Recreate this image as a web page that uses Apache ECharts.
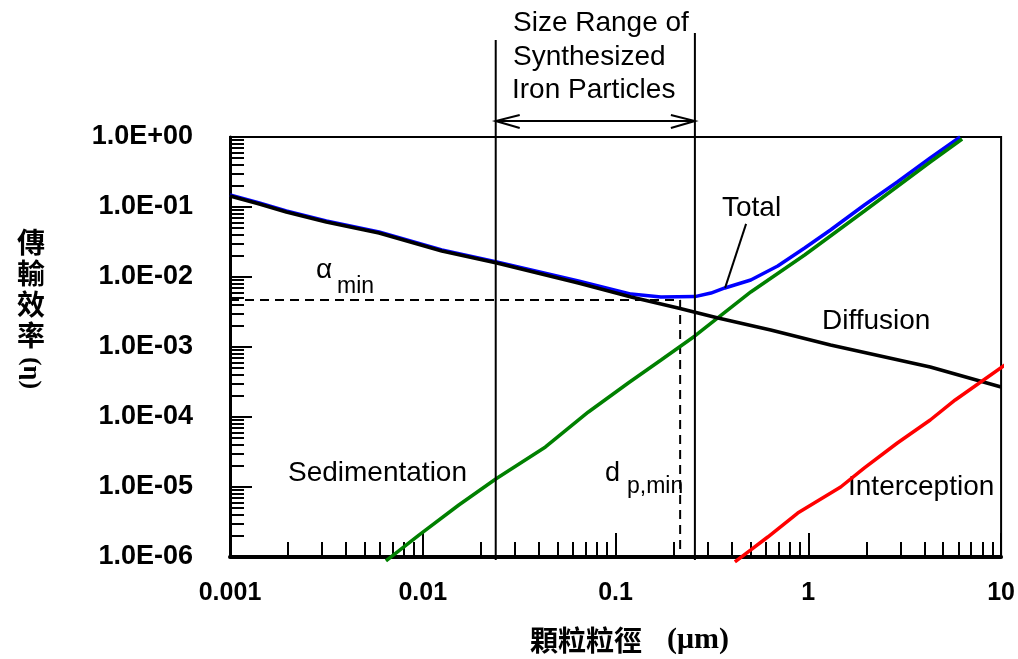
<!DOCTYPE html>
<html><head><meta charset="utf-8">
<script src="https://cdn.jsdelivr.net/npm/echarts@6/dist/echarts.min.js"></script>
<style>html,body{margin:0;padding:0;background:#fff}#c{width:1018px;height:659px}</style>
</head><body><div id="c"></div>
<script>
// ---- data ----
const xTickLabels = ['0.001', '0.01', '0.1', '1', '10'];
const yTickLabels = ['1.0E-06', '1.0E-05', '1.0E-04', '1.0E-03', '1.0E-02', '1.0E-01', '1.0E+00'];

const diffusion = [
  [0.001, 0.1436], [0.00142, 0.1104], [0.00196, 0.0849], [0.00316, 0.0611], [0.00593, 0.0425],
  [0.01256, 0.0235], [0.0242, 0.01585], [0.0641, 0.0082], [0.1205, 0.00518], [0.211, 0.00361],
  [0.340, 0.00259], [0.638, 0.00175], [1.303, 0.00107], [4.29, 0.000518], [10, 0.000268]
];
const total = [
  [0.001, 0.149], [0.00142, 0.114], [0.00196, 0.0877], [0.00316, 0.0631], [0.00593, 0.0439],
  [0.01256, 0.0243], [0.0242, 0.01637], [0.0641, 0.00877], [0.1205, 0.0057], [0.172, 0.00518],
  [0.258, 0.00525], [0.3126, 0.0059], [0.369, 0.00697], [0.503, 0.00906], [0.694, 0.01436],
  [0.957, 0.02596], [1.303, 0.0469], [1.954, 0.1069], [2.896, 0.2276], [4.29, 0.501], [6.13, 1.0]
];
const sedimentation = [
  [0.00644, 8.77e-7], [0.00955, 2.06e-6], [0.01538, 5.53e-6], [0.0239, 1.30e-5], [0.0433, 3.73e-5],
  [0.0723, 1.18e-4], [0.1164, 3.06e-4], [0.1722, 6.52e-4], [0.258, 1.436e-3], [0.503, 6.11e-3],
  [0.957, 0.0206], [1.954, 0.0877], [4.29, 0.4395], [6.28, 0.936]
];
const interception = [
  [0.416, 8.49e-7], [0.503, 1.26e-6], [0.616, 1.93e-6], [0.881, 4.25e-6], [1.472, 1.0e-5],
  [1.954, 1.87e-5], [2.896, 4.25e-5], [4.29, 9.06e-5], [5.78, 1.75e-4], [10.47, 5.53e-4]
];
const sizeRange = [0.0239, 0.258];      // size range of synthesized iron particles (um)
const minPoint = [0.2163, 0.00469];     // [d_p,min, alpha_min]
const totalLeader = [0.37, 0.0070];     // point on Total curve where the label leader starts

// ---- minor ticks (log decades) ----
const xMinor = [], yMinor = [];
for (let e = -3; e <= 0; e++) for (let m = 2; m <= 9; m++) xMinor.push(+(m * Math.pow(10, e)).toPrecision(3));
for (let e = -6; e <= -1; e++) for (let m = 2; m <= 9; m++) yMinor.push(+(m * Math.pow(10, e)).toPrecision(3));

const SANS = '"Liberation Sans", Arial, sans-serif';
const CJK = '"Noto Sans CJK TC", "Noto Sans CJK SC", sans-serif';
const SERIF = '"Liberation Serif", "Times New Roman", serif';

const chart = echarts.init(document.getElementById('c'), null, {renderer: 'canvas'});

const tickStyle = {color: '#000', width: 2};
const baseX = {type: 'log', logBase: 10, min: 0.001, max: 10, gridIndex: 0, position: 'bottom', splitLine: {show: false}, minorTick: {show: false}, minorSplitLine: {show: false}};
const baseY = {type: 'log', logBase: 10, min: 1e-6, max: 1, gridIndex: 0, position: 'left', splitLine: {show: false}, minorTick: {show: false}, minorSplitLine: {show: false}};

function txt(x, y, text, font, extra) {
  return Object.assign({type: 'text', x: x, y: y, style: {text: text, font: font, fill: '#000', align: 'left', verticalAlign: 'middle'}}, extra || {});
}

const option = {
  animation: false,
  backgroundColor: '#fff',
  grid: {left: 230, right: 14, top: 137, bottom: 102, show: true, borderColor: '#000', borderWidth: 2, backgroundColor: 'transparent'},
  xAxis: [
    Object.assign({}, baseX, {
      axisLine: {show: true, onZero: false, lineStyle: {color: '#000', width: 4}},
      axisTick: {show: true, inside: true, length: 24, lineStyle: tickStyle},
      axisLabel: {show: true, margin: 24, color: '#000', fontSize: 25, fontWeight: 'bold', fontFamily: SANS,
        formatter: v => xTickLabels[Math.round(Math.log10(v)) + 3]}
    }),
    Object.assign({}, baseX, {
      axisLine: {show: false},
      axisTick: {show: true, inside: true, length: 15, lineStyle: tickStyle, customValues: xMinor},
      axisLabel: {show: false}
    })
  ],
  yAxis: [
    Object.assign({}, baseY, {
      axisLine: {show: true, onZero: false, lineStyle: {color: '#000', width: 3}},
      axisTick: {show: true, inside: true, length: 22, lineStyle: tickStyle},
      axisLabel: {show: true, margin: 37, color: '#000', fontSize: 27, fontWeight: 'bold', fontFamily: SANS,
        formatter: v => yTickLabels[Math.round(Math.log10(v)) + 6]}
    }),
    Object.assign({}, baseY, {
      axisLine: {show: false},
      axisTick: {show: true, inside: true, length: 14, lineStyle: tickStyle, customValues: yMinor},
      axisLabel: {show: false}
    })
  ],
  series: [
    {name: 'Total', type: 'line', data: total, showSymbol: false, symbol: 'none', clip: false,
      lineStyle: {color: '#0000ff', width: 3.5}, itemStyle: {color: '#0000ff'}},
    {name: 'Sedimentation', type: 'line', data: sedimentation, showSymbol: false, symbol: 'none', clip: false,
      lineStyle: {color: '#008000', width: 3.5}, itemStyle: {color: '#008000'}},
    {name: 'Diffusion', type: 'line', data: diffusion, showSymbol: false, symbol: 'none', clip: false,
      lineStyle: {color: '#000', width: 3.5}, itemStyle: {color: '#000'}},
    {name: 'Interception', type: 'line', data: interception, showSymbol: false, symbol: 'none', clip: false,
      lineStyle: {color: '#ff0000', width: 3.5}, itemStyle: {color: '#ff0000'}},
    // size range lines + double arrow
    {type: 'custom', silent: true, data: [sizeRange], z: 5,
      renderItem: (params, api) => {
        const cs = params.coordSys;
        const top = cs.y, bottom = cs.y + cs.height;
        const xl = api.coord([api.value(0), 0.01])[0];
        const xr = api.coord([api.value(1), 0.01])[0];
        const ay = top - 16;
        const ls = {stroke: '#000', lineWidth: 2, fill: null};
        return {type: 'group', children: [
          {type: 'line', shape: {x1: xl, y1: top - 97, x2: xl, y2: bottom + 3}, style: ls},
          {type: 'line', shape: {x1: xr, y1: top - 104, x2: xr, y2: bottom + 3}, style: ls},
          {type: 'line', shape: {x1: xl, y1: ay, x2: xr, y2: ay}, style: ls},
          {type: 'polyline', shape: {points: [[xl + 24, ay - 6], [xl, ay], [xl + 24, ay + 7]]}, style: ls},
          {type: 'polyline', shape: {points: [[xr - 24, ay - 6], [xr, ay], [xr - 24, ay + 7]]}, style: ls}
        ]};
      }},
    // dashed alpha_min / d_p,min lines
    {type: 'custom', silent: true, data: [minPoint], z: 1,
      renderItem: (params, api) => {
        const cs = params.coordSys;
        const p = api.coord([api.value(0), api.value(1)]);
        const bottom = cs.y + cs.height;
        const ds = {stroke: '#000', lineWidth: 2, lineDash: [9, 6], fill: null};
        return {type: 'group', children: [
          {type: 'line', shape: {x1: cs.x, y1: p[1], x2: p[0], y2: p[1]}, style: ds},
          {type: 'line', shape: {x1: p[0], y1: p[1], x2: p[0], y2: bottom}, style: ds}
        ]};
      }},
    // leader line for "Total"
    {type: 'custom', silent: true, data: [totalLeader], z: 5,
      renderItem: (params, api) => {
        const p = api.coord([api.value(0), api.value(1)]);
        return {type: 'line', shape: {x1: p[0], y1: p[1], x2: p[0] + 21, y2: p[1] - 64}, style: {stroke: '#000', lineWidth: 2}};
      }}
  ],
  graphic: [
    txt(513, 23, 'Size Range of', '28px ' + SANS),
    txt(513, 57, 'Synthesized', '28px ' + SANS),
    txt(512, 90, 'Iron Particles', '28px ' + SANS),
    txt(722, 208, 'Total', '28px ' + SANS),
    txt(822, 321, 'Diffusion', '28px ' + SANS),
    txt(288, 473, 'Sedimentation', '28px ' + SANS),
    txt(848, 487, 'Interception', '28px ' + SANS),
    txt(605, 474, 'd', '27px ' + SANS),
    txt(627, 487, 'p,min', '23px ' + SANS),
    txt(316, 270, 'α', '28px ' + SANS),
    txt(337, 287, 'min', '23px ' + SANS),
    // y axis name (vertical)
    {type: 'text', x: 31, y: 242, style: {text: '傳', font: 'bold 28px ' + CJK, fill: '#000', align: 'center', verticalAlign: 'middle'}},
    {type: 'text', x: 31, y: 273, style: {text: '輸', font: 'bold 28px ' + CJK, fill: '#000', align: 'center', verticalAlign: 'middle'}},
    {type: 'text', x: 31, y: 304, style: {text: '效', font: 'bold 28px ' + CJK, fill: '#000', align: 'center', verticalAlign: 'middle'}},
    {type: 'text', x: 31, y: 335, style: {text: '率', font: 'bold 28px ' + CJK, fill: '#000', align: 'center', verticalAlign: 'middle'}},
    {type: 'text', x: 31, y: 373, rotation: -Math.PI / 2, style: {text: '(η)', font: 'bold 26px ' + SERIF, fill: '#000', align: 'center', verticalAlign: 'middle'}},
    // x axis name
    txt(530, 640, '顆粒粒徑', 'bold 28px ' + CJK),
    txt(667, 640, '(μm)', 'bold 30px ' + SERIF)
  ]
};
chart.setOption(option);
</script>
</body></html>
